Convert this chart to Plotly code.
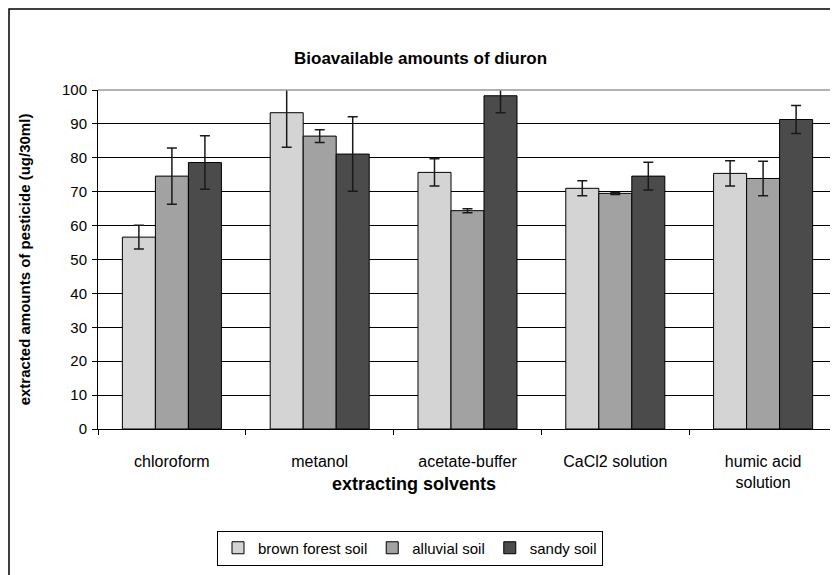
import plotly.graph_objects as go

categories = ["chloroform", "metanol", "acetate-buffer", "CaCl2 solution", "humic acid<br>solution"]
series_names = ["brown forest soil", "alluvial soil", "sandy soil"]
brown_forest = [56.6, 93.3, 75.7, 71.0, 75.4]
brown_forest_err = [3.5, 10.2, 4.0, 2.2, 3.7]
alluvial = [74.6, 86.4, 64.4, 69.5, 73.9]
alluvial_err = [8.3, 1.9, 0.6, 0.3, 5.1]
sandy = [78.6, 81.1, 98.3, 74.6, 91.3]
sandy_err = [7.9, 11.0, 5.0, 4.1, 4.1]
y_ticks = list(range(0, 101, 10))

colors = ["#d4d4d4", "#a2a2a2", "#4b4b4b"]
values = [brown_forest, alluvial, sandy]
errors = [brown_forest_err, alluvial_err, sandy_err]

FONT = "Liberation Sans, Arial, sans-serif"

fig = go.Figure()
for name, vals, errs, col in zip(series_names, values, errors, colors):
    fig.add_trace(go.Bar(
        x=categories, y=vals, name=name, cliponaxis=False,
        marker=dict(color=col, line=dict(color="#000000", width=1)),
        error_y=dict(type="data", array=errs, visible=True,
                     color="#1a1a1a", thickness=1.5, width=5),
    ))

# page geometry (the page body has an 8px margin)
OFF = 8
L, R, T, B = 98, 837, 90, 429
W, H = R - L, B - T
FW, FH = 838 - OFF, 575 - OFF
def px(x):
    return (x - L) / W
def py(y):
    return (B - y) / H

fig.update_layout(
    width=FW, height=FH,
    margin=dict(l=L - OFF, r=838 - R, t=T - OFF, b=575 - B, pad=0),
    paper_bgcolor="white", plot_bgcolor="white",
    font=dict(family=FONT, size=15, color="#000000"),
    barmode="group", bargap=0.33, bargroupgap=0,
    showlegend=True,
    legend=dict(orientation="h", x=px(410), xanchor="center", y=py(548), yanchor="middle",
                bordercolor="#000000", borderwidth=1, bgcolor="white",
                font=dict(family=FONT, size=15), itemwidth=30,
                traceorder="normal", tracegroupgap=0),
    xaxis=dict(
        type="category", showgrid=False, showline=True, linecolor="#000000", linewidth=1,
        ticks="outside", tickson="boundaries", ticklen=5, tickcolor="#000000",
        tickfont=dict(family=FONT, size=16), ticklabelstandoff=18,
        zeroline=False,
    ),
    yaxis=dict(
        range=[0, 100], tickvals=y_ticks, showgrid=True, gridcolor="#000000", gridwidth=1,
        showline=True, linecolor="#000000", linewidth=1,
        ticks="outside", ticklen=5, tickcolor="#000000",
        tickfont=dict(family=FONT, size=15), ticklabelstandoff=2,
        zeroline=False,
        title=dict(text="<b>extracted amounts of pesticide (ug/30ml)</b>",
                   font=dict(family=FONT, size=15), standoff=27),
    ),
    annotations=[
        dict(text="<b>Bioavailable amounts of diuron</b>", xref="paper", yref="paper",
             x=px(420), y=py(58), xanchor="center", yanchor="middle", showarrow=False,
             font=dict(family=FONT, size=17)),
        dict(text="<b>extracting solvents</b>", xref="paper", yref="paper",
             x=px(414), y=py(484), xanchor="center", yanchor="middle", showarrow=False,
             font=dict(family=FONT, size=18)),
    ],
    shapes=[
        dict(type="line", xref="paper", yref="paper", x0=0, x1=1, y0=1, y1=1,
             line=dict(color="#999999", width=1.5)),
        dict(type="line", xref="paper", yref="paper", x0=1, x1=1, y0=0, y1=1,
             line=dict(color="#999999", width=1.5)),
        dict(type="rect", xref="paper", yref="paper", x0=px(9), x1=px(845), y0=py(585), y1=py(9),
             line=dict(color="#000000", width=1.5), fillcolor="rgba(0,0,0,0)", layer="below"),
    ],
)

fig.write_html("out.html")
